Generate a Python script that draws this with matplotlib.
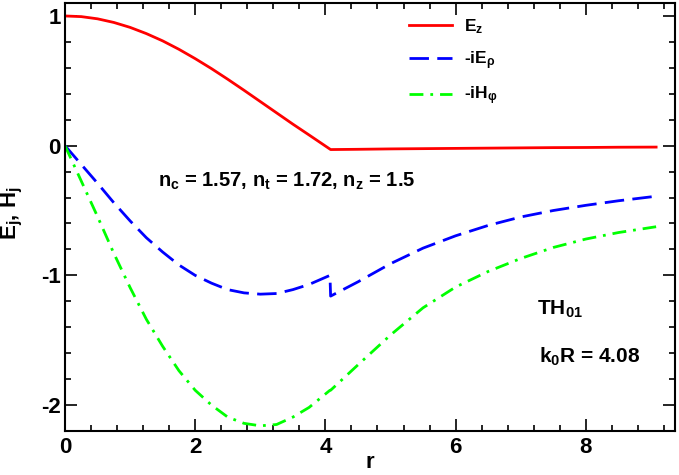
import matplotlib
matplotlib.use("Agg")
import matplotlib.pyplot as plt
from matplotlib.ticker import MultipleLocator

plt.rcParams['font.family'] = ['Liberation Sans', 'DejaVu Sans']
plt.rcParams['font.weight'] = 'bold'
plt.rcParams['mathtext.fontset'] = 'custom'
plt.rcParams['mathtext.bf'] = 'Liberation Sans:bold'
plt.rcParams['mathtext.rm'] = 'Liberation Sans:bold'
plt.rcParams['mathtext.it'] = 'Liberation Sans:bold'
plt.rcParams['mathtext.default'] = 'bf'
plt.rcParams['axes.unicode_minus'] = False

# values
r_in = [0, 0.25, 0.5, 0.75, 1.0, 1.25, 1.5, 1.75, 2.0, 2.25, 2.5, 2.75,
        3.0, 3.25, 3.5, 3.75, 4.07]
r_out = [4.08, 4.5, 5.0, 5.5, 6.0, 6.5, 7.0, 7.5, 8.0, 8.5, 9.08]

ez_in = [1.0, 0.995, 0.978, 0.95, 0.912, 0.864, 0.808, 0.743, 0.671, 0.594,
         0.512, 0.427, 0.34, 0.253, 0.166, 0.082, -0.03]
ez_out = [-0.03, -0.028, -0.025, -0.023, -0.021, -0.019, -0.017, -0.015,
          -0.014, -0.012, -0.011]

erho_in = [0, -0.145, -0.29, -0.44, -0.58, -0.71, -0.82, -0.92, -1.0, -1.06,
           -1.11, -1.135, -1.145, -1.14, -1.11, -1.07, -1.0]
erho_out = [-1.16, -1.05, -0.91, -0.79, -0.695, -0.615, -0.55, -0.5, -0.46,
            -0.425, -0.39]

hphi_in = [0, -0.273, -0.547, -0.83, -1.094, -1.339, -1.547, -1.735, -1.886,
           -2.0, -2.093, -2.141, -2.16, -2.15, -2.093, -2.018, -1.886]
hphi_out = [-1.886, -1.69, -1.46, -1.25, -1.09, -0.97, -0.87, -0.785, -0.72,
            -0.67, -0.625]

fig = plt.figure(figsize=(6.79, 4.75), dpi=100)
ax = fig.add_axes([65/679, 1 - 431/475, 610/679, 428/475])

ax.plot(r_in[:-1] + r_out, ez_in[:-1] + ez_out, color='#ff0000', lw=2.0, label='E$_z$')
ax.plot(r_in + r_out, erho_in + erho_out, color='#0000ff', lw=2.0,
        dashes=(7, 3), label='-iE$_ρ$')
ax.plot(r_in + r_out, hphi_in + hphi_out, color='#00ff00', lw=2.0,
        dashes=(5, 2.5, 1, 2.5), label='-iH$_φ$')

ax.set_xlim(0, 9.37)
ax.set_ylim(-2.2, 1.1)
ax.xaxis.set_major_locator(MultipleLocator(2))
ax.xaxis.set_minor_locator(MultipleLocator(0.4))
ax.yaxis.set_major_locator(MultipleLocator(1))
ax.yaxis.set_minor_locator(MultipleLocator(0.2))
ax.tick_params(which='both', direction='in', top=True, right=True, width=1.2)
ax.tick_params(which='major', length=8.5, labelsize=16)
ax.tick_params(which='minor', length=4.3)
ax.tick_params(axis='x', which='major', pad=4)
ax.tick_params(axis='y', which='major', pad=3)
for s in ax.spines.values():
    s.set_linewidth(1.5)

ax.set_xlabel('r', fontsize=16, fontweight='bold')
ax.xaxis.set_label_coords(0.5, -0.05)
ax.set_ylabel('E$_j$, H$_j$', fontsize=16, fontweight='bold')
ax.yaxis.set_label_coords(-0.065, 0.51)

leg = ax.legend(loc='upper left', bbox_to_anchor=(0.564, 0.966), frameon=False,
                fontsize=12.5, borderpad=0, borderaxespad=0, handlelength=2.5,
                handletextpad=0.65, labelspacing=0.75)

ax.text(1.43, -0.315, 'n$_c$ = 1.57, n$_t$ = 1.72, n$_z$ = 1.5',
        fontsize=14.5, fontweight='bold', ha='left', va='baseline')
ax.text(7.25, -1.30, 'TH$_{01}$', fontsize=15, fontweight='bold',
        ha='left', va='baseline')
ax.text(7.28, -1.67, 'k$_0$R = 4.08', fontsize=15, fontweight='bold',
        ha='left', va='baseline')

fig.savefig('out.png', dpi=100)
